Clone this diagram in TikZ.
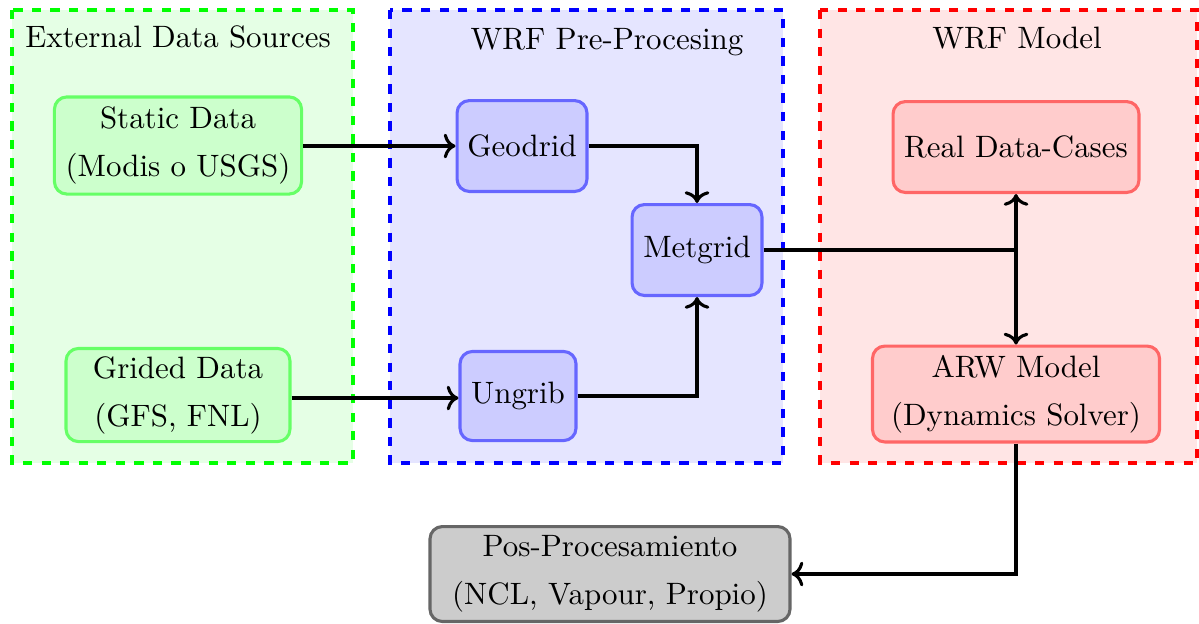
\documentclass[tikz,border=0pt]{standalone}
\usetikzlibrary{arrows.meta}
\begin{document}
\begin{tikzpicture}[x=0.3233pt,y=-0.3233pt,
  region/.style={draw, dashed, line width=1pt},
  proc/.style={draw, rounded corners=4pt, line width=1pt, align=center,
    font={\fontsize{10}{15.5}\selectfont}, inner sep=0pt},
  conn/.style={line width=1pt, ->},
  ttl/.style={font={\fontsize{10}{12}\selectfont}}]
\useasboundingbox (0,0) rectangle (1199,623);
% regions
\path[region, draw=green, fill=green!10] (12,10) rectangle (353,463);
\path[region, draw=blue, fill=blue!10] (390,10) rectangle (783,463);
\path[region, draw=red, fill=red!10] (820,10) rectangle (1197,463);
\node[ttl] (t1) at (178,37) {External Data Sources};
\node[ttl] (t2) at (607,42) {WRF Pre-Procesing};
\node[ttl] (t3) at (1017,38) {WRF Model};
% nodes
\node[proc, draw=green!60, fill=green!20, minimum width=79.9pt, minimum height=31.4pt] (static) at (178,145.5) {Static Data\\(Modis o USGS)};
\node[proc, draw=green!60, fill=green!20, minimum width=72.4pt, minimum height=30.1pt] (grided) at (178,395) {Grided Data\\(GFS, FNL)};
\node[proc, draw=blue!60, fill=blue!20, minimum width=42pt, minimum height=29.4pt] (geo) at (522,146) {Geodrid};
\node[proc, draw=blue!60, fill=blue!20, minimum width=42pt, minimum height=29.4pt] (met) at (697,250) {Metgrid};
\node[proc, draw=blue!60, fill=blue!20, minimum width=37.5pt, minimum height=28.8pt] (ungrib) at (518,396) {Ungrib};
\node[proc, draw=red!60, fill=red!20, minimum width=79.5pt, minimum height=29.4pt] (real) at (1016,147) {Real Data-Cases};
\node[proc, draw=red!60, fill=red!20, minimum width=92.8pt, minimum height=31pt] (arw) at (1016,394) {ARW Model\\(Dynamics Solver)};
\node[proc, draw=black!60, fill=black!20, minimum width=116.4pt, minimum height=30.7pt] (pos) at (610,574) {Pos-Procesamiento\\(NCL, Vapour, Propio)};
% connectors
\coordinate (j) at (1016,250);
\draw[conn] (static.east |- geo.west) -- (geo.west);
\draw[conn] (grided.east |- 0,398) -- (ungrib.west |- 0,398);
\draw[conn] (geo.east) -| (met.north);
\draw[conn] (ungrib.east) -| (met.south);
\draw[line width=1pt] (met.east) -- (j);
\draw[conn] (j) -- (real.south);
\draw[conn] (j) -- (arw.north);
\draw[conn] (arw.south) |- (pos.east);
\end{tikzpicture}
\end{document}
